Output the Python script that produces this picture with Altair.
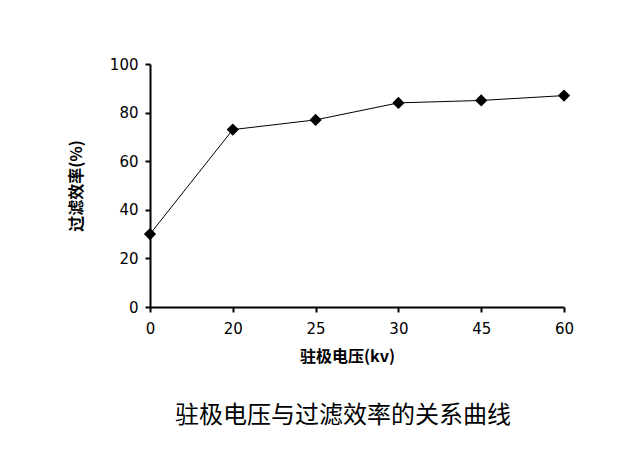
import altair as alt
import pandas as pd

voltage = ["0", "20", "25", "30", "45", "60"]
efficiency = [30, 73, 77, 84, 85, 87]

df = pd.DataFrame({"voltage": voltage, "efficiency": efficiency})

FONT = "DejaVu Sans"
CJK = "Noto Sans CJK SC"

base = alt.Chart(df).encode(
    x=alt.X("voltage:N", sort=voltage,
            scale=alt.Scale(type="point", padding=0),
            axis=alt.Axis(title="驻极电压(kv)", labelAngle=0, grid=False,
                          domainColor="black", domainWidth=2, tickColor="black",
                          tickWidth=2, tickSize=5, labelFont=FONT, labelFontSize=15,
                          labelColor="black", labelPadding=9,
                          titleFont=CJK, titleFontSize=16, titleFontWeight="bold",
                          titleColor="black", titlePadding=12, titleX=197)),
    y=alt.Y("efficiency:Q",
            scale=alt.Scale(domain=[0, 100]),
            axis=alt.Axis(title="过滤效率(%)", values=[0, 20, 40, 60, 80, 100], grid=False,
                          domainColor="black", domainWidth=2, tickColor="black",
                          tickWidth=2, tickSize=5, labelFont=FONT, labelFontSize=15,
                          labelColor="black", labelPadding=7,
                          titleFont=CJK, titleFontSize=16, titleFontWeight="bold",
                          titleColor="black", titlePadding=25)),
)

line = base.mark_line(color="black", strokeWidth=1)
pts = base.mark_point(shape="diamond", filled=True, color="black", size=150, opacity=1)

chart = (line + pts).properties(
    width=414, height=243,
    padding={"left": 142, "top": 56, "right": 56, "bottom": 151},
    autosize=alt.AutoSizeParams(type="none"),
    title=alt.TitleParams("驻极电压与过滤效率的关系曲线", orient="bottom", font=CJK,
                          fontSize=24, fontWeight="normal", color="black",
                          anchor="middle", dx=-14, offset=40),
).configure_view(stroke=None)

chart.save("out.html", embed_options={"renderer": "svg", "actions": False})
